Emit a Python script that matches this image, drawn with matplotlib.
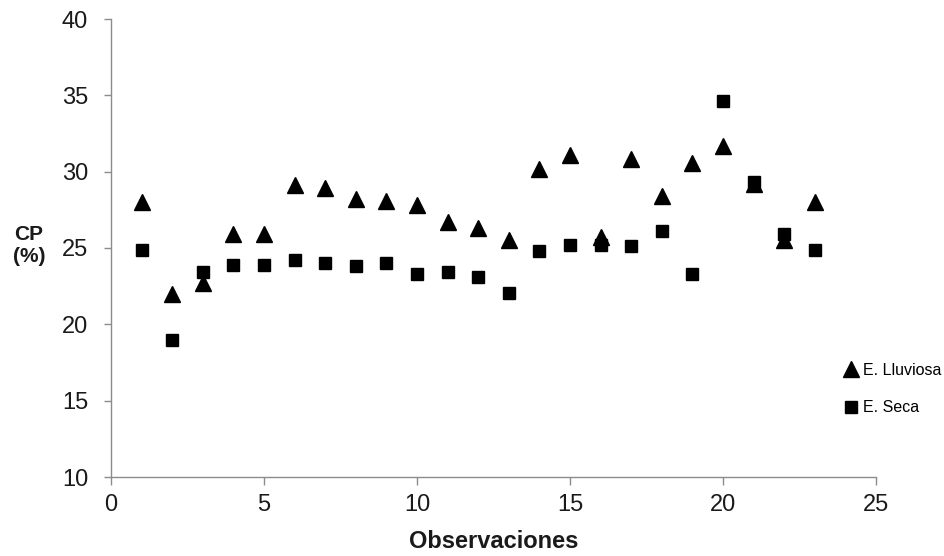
import matplotlib
matplotlib.use("Agg")
import matplotlib.pyplot as plt

plt.rcParams['font.family'] = ['Liberation Sans', 'DejaVu Sans']

observaciones = list(range(1, 24))
lluviosa = [28.0, 22.0, 22.7, 25.9, 25.9, 29.1, 28.9, 28.2, 28.1, 27.8, 26.7, 26.3,
            25.5, 30.2, 31.1, 25.7, 30.8, 28.4, 30.6, 31.7, 29.2, 25.5, 28.0]
seca = [24.9, 19.0, 23.4, 23.9, 23.9, 24.2, 24.0, 23.8, 24.0, 23.3, 23.4, 23.1,
        22.05, 24.8, 25.2, 25.2, 25.1, 26.1, 23.3, 34.6, 29.3, 25.9, 24.9]
xticks = [0, 5, 10, 15, 20, 25]
yticks = [10, 15, 20, 25, 30, 35, 40]

fig = plt.figure(figsize=(9.44, 5.56), dpi=100)
ax = fig.add_axes([111/944, 1 - 477/556, (876 - 111)/944, (477 - 19)/556])

ax.plot(observaciones, lluviosa, linestyle='none', marker='^', markersize=11.5,
        color='black', label='E. Lluviosa')
ax.plot(observaciones, seca, linestyle='none', marker='s', markersize=8.6,
        color='black', label='E. Seca')

ax.set_xlim(0, 25)
ax.set_ylim(10, 40)
ax.set_xticks(xticks)
ax.set_yticks(yticks)
ax.tick_params(axis='both', direction='out', length=5.4, width=1, color='#8c8c8c',
               labelsize=17, labelcolor='#1a1a1a')
ax.tick_params(axis='y', pad=11)
ax.tick_params(axis='x', pad=7)
for s in ['top', 'right']:
    ax.spines[s].set_visible(False)
for s in ['left', 'bottom']:
    ax.spines[s].set_color('#8c8c8c')
    ax.spines[s].set_linewidth(1)

fig.text((111 + 876) / 2 / 944, 1 - 542/556, 'Observaciones', fontsize=17,
         fontweight='bold', ha='center', va='center', color='#1a1a1a')
fig.text(29/944, 1 - 246/556, 'CP\n(%)', fontsize=15, fontweight='bold', ha='center',
         va='center', color='#1a1a1a', linespacing=1.2)

leg = ax.legend(loc='center left', bbox_to_anchor=(844/944, 1 - 389/556),
                bbox_transform=fig.transFigure, frameon=False, fontsize=11.5,
                handlelength=0.9, handletextpad=0.3, labelspacing=1.4,
                borderaxespad=0, borderpad=0, markerscale=0.95)

fig.savefig('out.png', dpi=100, facecolor='white')
